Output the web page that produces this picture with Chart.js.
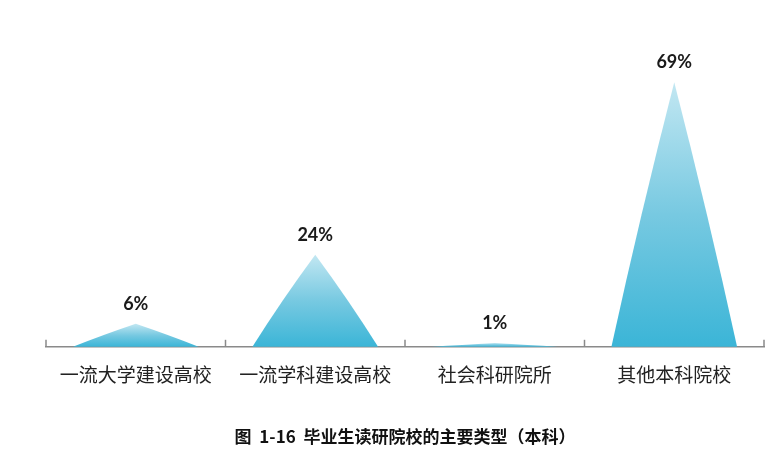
<!DOCTYPE html>
<html>
<head>
<meta charset="utf-8">
<script src="https://cdn.jsdelivr.net/npm/chart.js@4.4.0/dist/chart.umd.min.js"></script>
<style>
  html, body { margin: 0; padding: 0; background: #fff; }
</style>
</head>
<body>
<canvas id="myChart" width="782" height="453"></canvas>
<script>
// data
var categories = ["一流大学建设高校", "一流学科建设高校", "社会科研院所", "其他本科院校"];
var shares = [6, 24, 1, 69];
var shareLabels = ["6%", "24%", "1%", "69%"];
var captionText = "图  1-16  毕业生读研院校的主要类型（本科）";

// draws each bar as a pointed peak with a cyan gradient
var peakPlugin = {
    id: "peaks",
    afterDatasetsDraw: function (chart) {
        var ctx = chart.ctx;
        var meta = chart.getDatasetMeta(0);
        meta.data.forEach(function (bar, i) {
            var p = bar.getProps(["x", "y", "base", "width"], true);
            var half = p.width / 2;
            var h = p.base - p.y;
            var grad = ctx.createLinearGradient(0, p.y, 0, p.base);
            grad.addColorStop(0, "#c2e7f2");
            grad.addColorStop(0.5, "#77c9e1");
            grad.addColorStop(1, "#3bb5d7");
            ctx.save();
            ctx.beginPath();
            ctx.moveTo(p.x - half, p.base);
            ctx.quadraticCurveTo(p.x - half + p.width * 0.23, p.y + h * 0.5, p.x, p.y);
            ctx.quadraticCurveTo(p.x + half - p.width * 0.23, p.y + h * 0.5, p.x + half, p.base);
            ctx.closePath();
            ctx.fillStyle = grad;
            ctx.fill();
            ctx.restore();

            ctx.save();
            ctx.font = "bold 18px Lato, 'Open Sans', sans-serif";
            ctx.fillStyle = "#1a1a1a";
            ctx.textAlign = "center";
            ctx.textBaseline = "middle";
            ctx.fillText(shareLabels[i], p.x, p.y - 20);
            ctx.restore();
        });
    },
    afterDraw: function (chart) {
        // small upward ticks between categories
        var ctx = chart.ctx;
        var xs = chart.scales.x;
        var area = chart.chartArea;
        var centers = categories.map(function (c, i) { return xs.getPixelForValue(i); });
        var marks = [area.left];
        for (var i = 1; i < centers.length; i++) {
            marks.push((centers[i - 1] + centers[i]) / 2);
        }
        marks.push(area.right);
        ctx.save();
        ctx.strokeStyle = "#8a8a8a";
        ctx.lineWidth = 1.5;
        marks.forEach(function (m) {
            ctx.beginPath();
            ctx.moveTo(m, area.bottom - 7);
            ctx.lineTo(m, area.bottom);
            ctx.stroke();
        });
        ctx.restore();
    }
};

new Chart("myChart", {
    type: "bar",
    data: {
        labels: categories,
        datasets: [{
            data: shares,
            backgroundColor: "rgba(0,0,0,0)",
            borderWidth: 0,
            barPercentage: 0.7,
            categoryPercentage: 1
        }]
    },
    options: {
        responsive: false,
        devicePixelRatio: 1,
        animation: false,
        layout: { padding: { left: 46, right: 18, top: 40, bottom: 0 } },
        plugins: {
            legend: { display: false },
            tooltip: { enabled: false },
            title: {
                display: true,
                position: "bottom",
                text: captionText,
                color: "#111",
                font: { family: "'Noto Sans CJK SC', sans-serif", size: 17, weight: "bold" },
                padding: { top: 23, bottom: 6 }
            }
        },
        scales: {
            x: {
                grid: { display: false, drawTicks: false },
                border: { display: true, color: "#8a8a8a", width: 1.5 },
                ticks: {
                    color: "#222",
                    padding: 17,
                    font: { family: "'Noto Sans CJK SC', sans-serif", size: 19 }
                }
            },
            y: {
                display: false,
                min: 0,
                max: 80
            }
        }
    },
    plugins: [peakPlugin]
});
</script>
</body>
</html>
